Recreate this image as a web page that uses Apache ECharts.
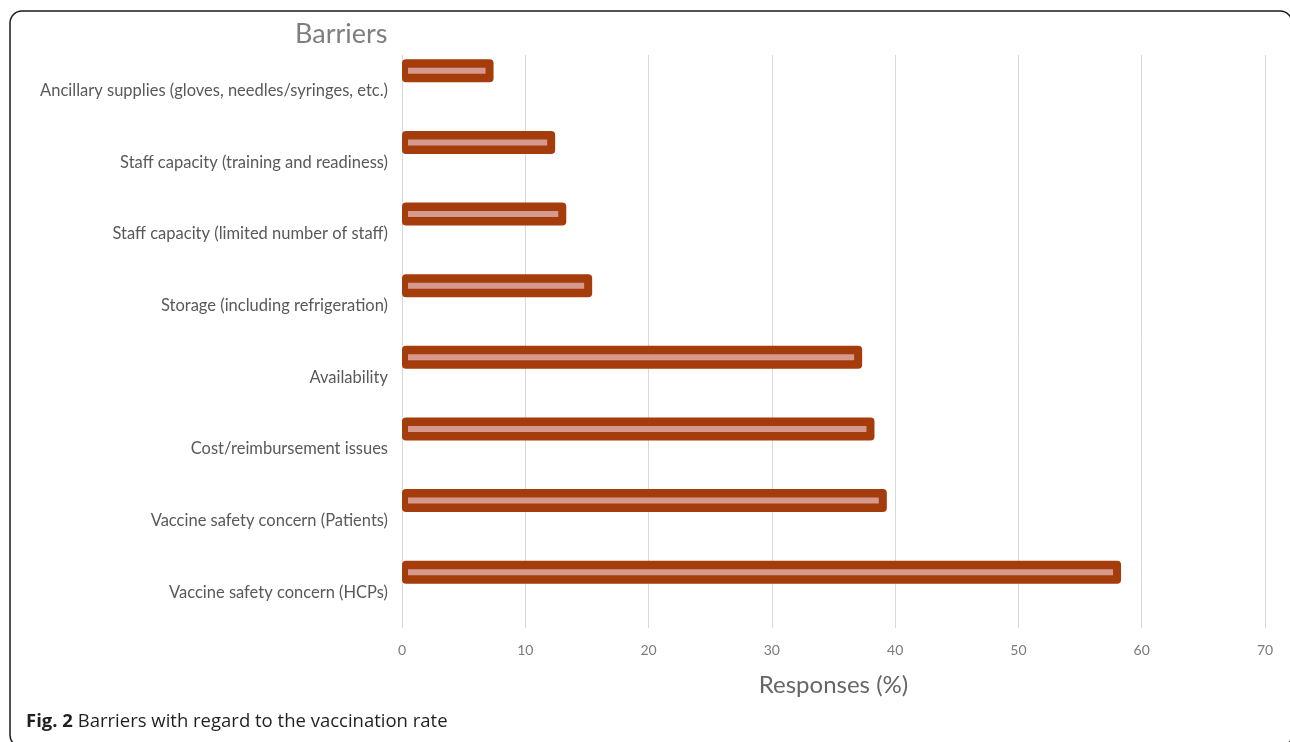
<!DOCTYPE html>
<html>
<head>
<meta charset="utf-8">
<script src="https://cdn.jsdelivr.net/npm/echarts@6/dist/echarts.min.js"></script>
<style>
  html, body { margin: 0; padding: 0; background: #ffffff; }
  #chart { width: 1290px; height: 742px; }
</style>
</head>
<body>
<div id="chart"></div>
<script>
// Barriers reported, top to bottom
const categories = [
  'Ancillary supplies (gloves, needles/syringes, etc.)',
  'Staff capacity (training and readiness)',
  'Staff capacity (limited number of staff)',
  'Storage (including refrigeration)',
  'Availability',
  'Cost/reimbursement issues',
  'Vaccine safety concern (Patients)',
  'Vaccine safety concern (HCPs)'
];
// Share of responses (%)
const responses = [7.1, 12.1, 13.0, 15.1, 37.0, 38.0, 39.0, 58.0];
const xTicks = [0, 10, 20, 30, 40, 50, 60, 70];

const BAR_DARK = '#a53c0b';
const BAR_LIGHT = '#d6998d';
const LABEL_FONT = 'Lato, "Open Sans", sans-serif';

const chart = echarts.init(document.getElementById('chart'), null, { renderer: 'canvas' });

// Outlined bar with a light inner stripe, sitting in the upper part of its band
function renderBar(params, api) {
  const v = api.value(0);
  const cat = api.value(1);
  const start = api.coord([0, cat]);
  const end = api.coord([v, cat]);
  const cy = start[1] - 20;
  const len = end[0] - start[0];
  return {
    type: 'group',
    children: [
      {
        type: 'rect',
        shape: { x: start[0], y: cy - 11.5, width: len + 4, height: 23, r: 4 },
        style: { fill: BAR_DARK }
      },
      {
        type: 'rect',
        shape: { x: start[0] + 6, y: cy - 3, width: Math.max(len - 10, 0), height: 6 },
        style: { fill: BAR_LIGHT }
      }
    ]
  };
}

chart.setOption({
  animation: false,
  backgroundColor: '#ffffff',
  grid: { left: 402, right: 25, top: 55, bottom: 114, containLabel: false },
  xAxis: {
    type: 'value',
    min: xTicks[0],
    max: xTicks[xTicks.length - 1],
    interval: 10,
    name: 'Responses (%)',
    nameLocation: 'middle',
    nameGap: 45,
    nameTextStyle: { fontFamily: LABEL_FONT, fontSize: 24, color: '#666666' },
    axisLine: { show: false },
    axisTick: { show: false },
    axisLabel: { margin: 15, fontFamily: LABEL_FONT, fontSize: 14, color: '#7a7a7a' },
    splitLine: { show: true, lineStyle: { color: '#d9d9d9', width: 1 } }
  },
  yAxis: {
    type: 'category',
    data: categories,
    inverse: true,
    axisLine: { show: false },
    axisTick: { show: false },
    axisLabel: { margin: 14, fontFamily: LABEL_FONT, fontSize: 16.5, color: '#595959' },
    splitLine: { show: false }
  },
  series: [{
    type: 'custom',
    renderItem: renderBar,
    encode: { x: 0, y: 1 },
    data: responses.map((v, i) => [v, categories[i]])
  }],
  graphic: [
    {
      type: 'rect',
      shape: { x: 10, y: 11, width: 1282, height: 736, r: 12 },
      style: { fill: 'none', stroke: '#1a1a1a', lineWidth: 1.5 },
      silent: true
    },
    {
      type: 'text',
      left: 295,
      top: 21,
      style: { text: 'Barriers', font: '27px ' + LABEL_FONT, fill: '#7f7f7f' }
    },
    {
      type: 'text',
      left: 26,
      top: 712,
      style: {
        text: '{b|Fig. 2} Barriers with regard to the vaccination rate',
        rich: {
          b: { fontWeight: 'bold', fontSize: 18.5, fontFamily: '"Open Sans", sans-serif', fill: '#231f20' }
        },
        font: '18.5px "Open Sans", sans-serif',
        fill: '#231f20'
      }
    }
  ]
});
</script>
</body>
</html>
